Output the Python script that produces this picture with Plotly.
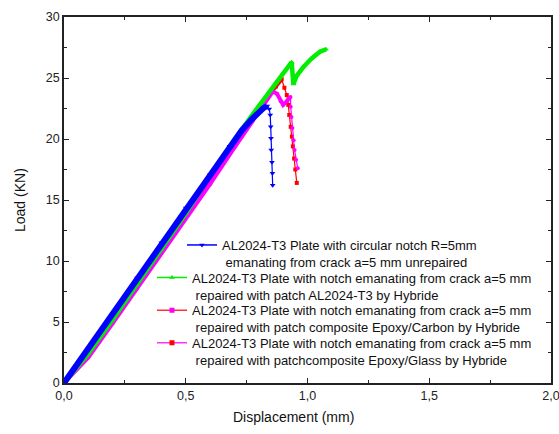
import numpy as np
import plotly.graph_objects as go

# Load-displacement curves (displacement in mm, load in kN)
unrepaired_x = [0.0, 0.10, 0.20, 0.30, 0.40, 0.50, 0.60, 0.68, 0.73, 0.77, 0.80, 0.82, 0.835,
                0.843, 0.847, 0.849, 0.850, 0.851, 0.854, 0.856, 0.857]
unrepaired_y = [0.0, 2.85, 5.7, 8.6, 11.5, 14.35, 17.1, 19.4, 20.7, 21.6, 22.2, 22.55, 22.7,
                22.45, 21.97, 21.0, 20.06, 19.1, 18.1, 17.2, 16.2]

al_patch_x = [0.0, 0.10, 0.20, 0.30, 0.40, 0.50, 0.60, 0.70, 0.80, 0.87, 0.935,
              0.942, 0.956, 0.983, 1.017, 1.051, 1.076]
al_patch_y = [0.0, 2.4, 5.2, 8.05, 10.95, 13.9, 17.0, 19.95, 22.7, 24.6, 26.3,
              24.5, 25.2, 25.9, 26.6, 27.15, 27.35]

carbon_x = [0.0, 0.10, 0.20, 0.30, 0.40, 0.50, 0.60, 0.70, 0.80, 0.846, 0.87, 0.894,
            0.905, 0.915, 0.921, 0.925, 0.931, 0.936, 0.940, 0.945, 0.950, 0.956]
carbon_y = [0.0, 2.35, 5.1, 7.95, 10.85, 13.8, 16.9, 19.85, 22.6, 23.75, 24.3, 24.9,
            24.2, 23.6, 22.8, 21.97, 21.0, 20.2, 19.4, 18.4, 17.5, 16.4]

glass_x = [0.0, 0.10, 0.20, 0.30, 0.40, 0.50, 0.60, 0.70, 0.80, 0.839, 0.858, 0.875, 0.89,
           0.90, 0.915, 0.930, 0.931, 0.934, 0.938, 0.943, 0.947, 0.953, 0.960]
glass_y = [0.0, 2.1, 4.9, 7.75, 10.65, 13.5, 16.3, 19.3, 22.3, 23.45, 23.9, 23.7, 23.1,
           22.8, 23.1, 23.45, 22.65, 21.8, 20.9, 19.9, 19.1, 18.3, 17.6]

labels = [
    "AL2024-T3 Plate with circular notch R=5mm<br> emanating from crack a=5 mm unrepaired",
    "AL2024-T3 Plate with notch emanating from crack a=5 mm<br> repaired with patch AL2024-T3 by Hybride",
    "AL2024-T3 Plate with notch emanating from crack a=5 mm<br> repaired with patch composite Epoxy/Carbon by Hybride",
    "AL2024-T3 Plate with notch emanating from crack a=5 mm<br> repaired with patchcomposite Epoxy/Glass by Hybride",
]

x_ticks = [0.0, 0.5, 1.0, 1.5, 2.0]
y_ticks = [0, 5, 10, 15, 20, 25, 30]

FONT = "Arial, Liberation Sans, sans-serif"

# (x, y, line colour, marker symbol, marker size, band width), in drawing order
series = [
    (carbon_x, carbon_y, "#ff0000", "square", 4, 4),
    (glass_x, glass_y, "#ff00ff", "circle", 4, 4),
    (al_patch_x, al_patch_y, "#00ee00", "triangle-up", 5, 4.5),
    (unrepaired_x, unrepaired_y, "#0000ff", "triangle-down", 5, 6),
]


def band_end(y):
    """Index where the final monotonic load drop starts."""
    y = np.asarray(y)
    i = len(y) - 1
    while i > 0 and y[i - 1] > y[i]:
        i -= 1
    return i


fig = go.Figure()
for xs, ys, color, symbol, msize, bw in series:
    k = band_end(ys)
    # densely sampled loading branch appears as a solid band
    fig.add_trace(go.Scatter(x=xs[:k + 1], y=ys[:k + 1], mode="lines",
                             line=dict(color=color, width=bw), showlegend=False,
                             hoverinfo="skip"))
    fig.add_trace(go.Scatter(x=xs, y=ys, mode="lines+markers",
                             line=dict(color=color, width=1.2),
                             marker=dict(symbol=symbol, size=msize, color=color),
                             showlegend=False))

# legend entries, each in its own box
legend_entries = [
    (labels[0], "#0000ff", "triangle-down", "#0000ff", "legend"),
    (labels[1], "#00ee00", "triangle-up", "#00ee00", "legend2"),
    (labels[2], "#ff3333", "square", "#ff00ff", "legend3"),
    (labels[3], "#ff33ff", "square", "#ff0000", "legend4"),
]
for name, lc, sym, mc, lg in legend_entries:
    fig.add_trace(go.Scatter(x=[None], y=[None], mode="lines+markers", name=name,
                             line=dict(color=lc, width=1.5),
                             marker=dict(symbol=sym, size=5, color=mc),
                             legend=lg, showlegend=True))

plot_w = 487.0
plot_h = 366.0
leg_common = dict(bgcolor="rgba(0,0,0,0)", borderwidth=0, valign="top",
                  itemwidth=30, font=dict(family=FONT, size=13, color="#111"),
                  xanchor="left", yanchor="top", itemclick=False)
fig.update_layout(
    legend=dict(x=(182 - 64) / plot_w, y=(383 - 230) / plot_h, **leg_common),
    legend2=dict(x=(152 - 64) / plot_w, y=(383 - 262.6) / plot_h, **leg_common),
    legend3=dict(x=(152 - 64) / plot_w, y=(383 - 295.2) / plot_h, **leg_common),
    legend4=dict(x=(152 - 64) / plot_w, y=(383 - 327.8) / plot_h, **leg_common),
)

axis_common = dict(showline=True, linecolor="#222", linewidth=1.5, mirror="ticks",
                   ticks="inside", ticklen=5, tickwidth=1.2, tickcolor="#222",
                   showgrid=False, zeroline=False, automargin=False,
                   ticklabeloverflow="allow",
                   tickfont=dict(family=FONT, size=12.5, color="#222"))
fig.update_xaxes(range=[0, 2.0], tickvals=x_ticks, tickformat=".1f",
                 minor=dict(ticks="inside", ticklen=3, dtick=0.25, tickcolor="#222", showgrid=False),
                 **axis_common)
fig.update_yaxes(range=[0, 30], tickvals=y_ticks,
                 minor=dict(ticks="inside", ticklen=3, dtick=2.5, tickcolor="#222", showgrid=False),
                 **axis_common)

fig.add_annotation(text="Displacement (mm)", xref="paper", yref="paper",
                   x=(293 - 64) / plot_w, y=-(417 - 383) / plot_h, showarrow=False,
                   font=dict(family=FONT, size=14, color="#111"),
                   xanchor="center", yanchor="middle")
fig.add_annotation(text="Load (KN)", xref="paper", yref="paper",
                   x=-(64 - 20) / plot_w, y=0.5, showarrow=False, textangle=-90,
                   font=dict(family=FONT, size=14, color="#111"),
                   xanchor="center", yanchor="middle")

fig.update_layout(
    width=559, height=434,
    margin=dict(l=64, r=8, t=17, b=51, autoexpand=False),
    plot_bgcolor="white", paper_bgcolor="white",
    separators=",.",
    font=dict(family=FONT),
)

fig.write_html("out.html")
